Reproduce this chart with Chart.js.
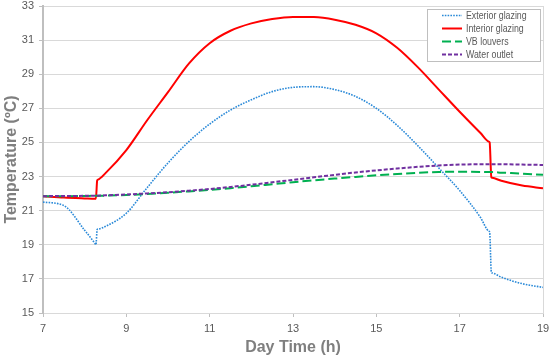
<!DOCTYPE html>
<html>
<head>
<meta charset="utf-8">
<script src="https://cdn.jsdelivr.net/npm/chart.js@4.4.1/dist/chart.umd.min.js"></script>
<style>
  html, body { margin: 0; padding: 0; background: #fff; }
  #wrap { width: 550px; height: 359px; }
</style>
</head>
<body>
<div id="wrap"><canvas id="tempChart"></canvas></div>
<script>
// time of day (h) - shared by all series, jumps are where blinds move
var hours = [7, 7.5, 8, 8.25, 8.27, 8.3, 8.32, 8.5, 9, 9.5, 10, 10.5, 11, 11.5, 12, 12.5, 13, 13.5,
             14, 14.5, 15, 15.5, 16, 16.5, 17, 17.5, 17.7, 17.72, 17.76, 17.78, 18, 18.5, 19];

var exteriorGlazing = [21.5, 21.3, 19.85, 19.07, 19.0, 19.9, 19.92, 20.08, 20.85, 22.35, 23.8, 25.05, 26.08, 26.9, 27.5, 27.98, 28.23, 28.27,
                       28.1, 27.7, 27.0, 26.0, 24.8, 23.5, 22.18, 20.6, 19.8, 19.74, 17.4, 17.35, 17.1, 16.72, 16.5];
var interiorGlazing = [21.85, 21.77, 21.72, 21.7, 21.7, 22.77, 22.82, 23.2, 24.55, 26.3, 27.95, 29.62, 30.82, 31.55, 31.98, 32.24, 32.36, 32.35,
                       32.2, 31.9, 31.4, 30.55, 29.4, 28.1, 26.8, 25.55, 25.05, 25.0, 22.96, 22.93, 22.75, 22.47, 22.32];
var vbLouvers = [21.85, 21.85, 21.86, 21.87, 21.87, 21.87, 21.87, 21.88, 21.92, 21.98, 22.05, 22.13, 22.22, 22.32, 22.43, 22.55, 22.67, 22.78,
                 22.88, 22.98, 23.07, 23.15, 23.22, 23.27, 23.28, 23.27, 23.26, 23.26, 23.26, 23.26, 23.23, 23.17, 23.1];
var waterOutlet = [21.85, 21.86, 21.87, 21.88, 21.88, 21.88, 21.88, 21.9, 21.95, 22.01, 22.08, 22.17, 22.27, 22.39, 22.52, 22.66, 22.81, 22.96,
                   23.1, 23.24, 23.36, 23.47, 23.57, 23.65, 23.7, 23.72, 23.72, 23.72, 23.72, 23.72, 23.72, 23.7, 23.68];

var seriesNames = ['Exterior glazing', 'Interior glazing', 'VB louvers', 'Water outlet'];

function pts(vals) {
    return hours.map(function (h, i) { return { x: h, y: vals[i] }; });
}

var txtGray = '#595959';
var gridGray = '#d9d9d9';
var axisGray = '#bfbfbf';

// box legend in the upper right corner of the plot, like the excel one
var boxLegend = {
    id: 'boxLegend',
    afterDatasetsDraw: function (chart) {
        var ctx = chart.ctx;
        var area = chart.chartArea;
        var w = 113, h = 52;
        var x0 = area.right - 3 - w, y0 = area.top + 3;
        ctx.save();
        ctx.fillStyle = '#fff';
        ctx.fillRect(x0, y0, w, h);
        ctx.strokeStyle = axisGray;
        ctx.lineWidth = 1;
        ctx.strokeRect(x0 + 0.5, y0 + 0.5, w, h);
        ctx.font = '11px "Liberation Sans", sans-serif';
        ctx.textBaseline = 'middle';
        ctx.fillStyle = txtGray;
        chart.data.datasets.forEach(function (ds, i) {
            var cy = y0 + 6.5 + i * 13;
            ctx.beginPath();
            ctx.setLineDash(ds.borderDash || []);
            ctx.strokeStyle = ds.borderColor;
            ctx.lineWidth = ds.borderWidth;
            ctx.moveTo(x0 + 15, cy);
            ctx.lineTo(x0 + 35, cy);
            ctx.stroke();
            ctx.setLineDash([]);
            // excel font is narrower, squeeze the text a bit
            ctx.fillText(ds.label, x0 + 39, cy, ctx.measureText(ds.label).width * 0.8);
        });
        ctx.restore();
    }
};

var chartTemp = new Chart(document.getElementById('tempChart'), {
    type: 'line',
    data: {
        datasets: [{
            label: seriesNames[0],
            data: pts(exteriorGlazing),
            borderColor: '#2B8AD8',
            borderWidth: 1.6,
            borderDash: [1.6, 1.2],
            order: 3
        }, {
            label: seriesNames[1],
            data: pts(interiorGlazing),
            borderColor: '#FF0000',
            borderWidth: 2,
            order: 2
        }, {
            label: seriesNames[2],
            data: pts(vbLouvers),
            borderColor: '#00B050',
            borderWidth: 2,
            borderDash: [9, 4],
            order: 1
        }, {
            label: seriesNames[3],
            data: pts(waterOutlet),
            borderColor: '#7030A0',
            borderWidth: 2,
            borderDash: [4, 2],
            order: 0
        }]
    },
    options: {
        responsive: true,
        maintainAspectRatio: false,
        animation: false,
        cubicInterpolationMode: 'monotone',
        elements: { point: { radius: 0 }, line: { borderCapStyle: 'butt' } },
        layout: { padding: { top: 6, right: 7, left: 0, bottom: 0 } },
        plugins: { legend: { display: false }, tooltip: { enabled: false } },
        scales: {
            x: {
                type: 'linear',
                min: 7, max: 19,
                ticks: { stepSize: 2, color: txtGray, padding: 5, font: { family: 'Liberation Sans', size: 11 } },
                grid: {
                    tickLength: 4,
                    tickColor: axisGray,
                    color: function (c) { return c.index === 6 ? gridGray : 'rgba(0,0,0,0)'; }
                },
                border: { color: gridGray, width: 1 },
                title: {
                    display: true, text: 'Day Time (h)', color: '#7f7f7f',
                    font: { family: 'Liberation Sans', size: 16, weight: 'bold' },
                    padding: { top: 0, bottom: 2 }
                },
                afterFit: function (s) { s.height = 46; s.paddingLeft = 0; s.paddingRight = 0; }
            },
            y: {
                min: 15, max: 33,
                ticks: { stepSize: 2, color: txtGray, padding: 5, font: { family: 'Liberation Sans', size: 11 } },
                grid: { color: gridGray, tickLength: 4, tickColor: axisGray },
                border: { color: axisGray, width: 2 },
                title: {
                    display: true, text: 'Temperature (ºC)', color: '#7f7f7f',
                    font: { family: 'Liberation Sans', size: 16, weight: 'bold' },
                    padding: { top: 2, bottom: 0 }
                },
                afterFit: function (s) { s.width = 43; s.paddingTop = 0; s.paddingBottom = 0; }
            }
        }
    },
    plugins: [boxLegend]
});
</script>
</body>
</html>
